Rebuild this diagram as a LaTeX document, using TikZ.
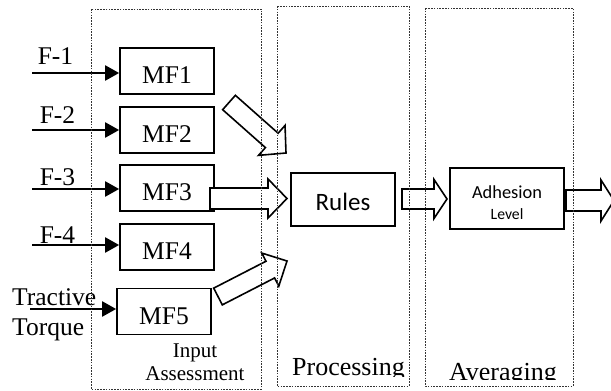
\documentclass[tikz,border=0pt]{standalone}
\usepackage{fontspec}
\setmainfont{Liberation Serif}
\newfontfamily\calib{Carlito}
\usetikzlibrary{arrows.meta,calc}
\newcommand\blockarr[5]{%
  \coordinate (bh) at ($(#2)!#5!(#1)$);
  \draw[blockarrow] ($(#1)!#3!90:(#2)$) -- ($(bh)!#3!90:(#2)$) -- ($(bh)!#4!90:(#2)$) -- (#2)
    -- ($(bh)!#4!-90:(#2)$) -- ($(bh)!#3!-90:(#2)$) -- ($(#1)!#3!-90:(#2)$) -- cycle;}
\tikzset{
  mfbox/.style={draw, line width=1.7pt, minimum width=94pt, minimum height=46pt, inner sep=0pt},
  stage/.style={draw=black!80, line width=0.7pt, dash pattern=on 1.6pt off 1.2pt},
  inarrow/.style={line width=2.2pt, -{Triangle[length=14pt,width=15pt]}},
  blockarrow/.style={draw, fill=white, line width=1.6pt, line join=miter},
  lbl/.style={font=\fontsize{25.5}{25.5}\selectfont, inner sep=0pt, anchor=base},
}
\begin{document}
\begin{tikzpicture}[x=1pt,y=-1pt]
\useasboundingbox (0,0) rectangle (611,391);
\clip (0,0) rectangle (611,391);

% MF boxes
\node[mfbox] (mf1) at (167,71) {};
\node[mfbox] (mf2) at (167,130) {};
\node[mfbox] (mf3) at (167,188) {};
\node[mfbox] (mf4) at (167,247) {};
\node[mfbox] (mf5) at (164,311.5) {};
\foreach \n/\t in {mf1/MF1,mf2/MF2,mf3/MF3,mf4/MF4,mf5/MF5}
  \node[lbl] at ($(\n.center)+(0,12.5)$) {\t};

% Rules and Adhesion
\node[draw, line width=2.6pt, minimum width=104pt, minimum height=53pt, inner sep=0pt] (rules) at (343,199.5) {};
\node[font=\calib\fontsize{25}{25}\selectfont, inner sep=0pt, anchor=base] at (343,210) {Rules};
\node[draw, line width=1.7pt, minimum width=114pt, minimum height=61pt, inner sep=0pt] (adh) at (507,198.5) {};
\node[font=\calib\fontsize{18.4}{18.4}\selectfont, inner sep=0pt, anchor=base] at (507,198) {Adhesion};
\node[font=\calib\fontsize{15.7}{15.7}\selectfont, inner sep=0pt, anchor=base] at (507,219) {Level};

% input labels and arrows
\node[lbl] at (55.5,64) {F-1};
\node[lbl] at (57.5,123.5) {F-2};
\node[lbl] at (57.5,185) {F-3};
\node[lbl] at (57.5,243.5) {F-4};
\node[lbl, anchor=base west] at (12,305) {Tractive};
\node[lbl, anchor=base west] at (12,335) {Torque};
\coordinate (i1) at (32,73);
\coordinate (i2) at (32,130);
\coordinate (i3) at (32,189);
\coordinate (i4) at (32,245);
\coordinate (i5) at (30,309);
\draw[inarrow] (i1) -- (i1 -| mf1.west);
\draw[inarrow] (i2) -- (i2 -| mf2.west);
\draw[inarrow] (i3) -- (i3 -| mf3.west);
\draw[inarrow] (i4) -- (i4 -| mf4.west);
\draw[inarrow] (i5) -- (i5 -| mf5.west);

% block arrows
\coordinate (a1t) at (229,102.5); \coordinate (a1h) at (286,153);
\coordinate (a2t) at (210,198.5); \coordinate (a2h) at (287,198.5);
\coordinate (a3t) at (218,296.5); \coordinate (a3h) at (287,261);
\coordinate (a4t) at (402,199);   \coordinate (a4h) at (447,199);
\coordinate (a5t) at (566,200.5); \coordinate (a5h) at (614,200.5);
\blockarr{a1t}{a1h}{9.6pt}{20pt}{19pt}
\blockarr{a2t}{a2h}{10.5pt}{19.5pt}{19pt}
\blockarr{a3t}{a3h}{9.4pt}{18.6pt}{18.8pt}
\blockarr{a4t}{a4h}{10pt}{19.5pt}{13pt}
\blockarr{a5t}{a5h}{10.5pt}{20.5pt}{13pt}

% stage boxes
\draw[stage] (91,9) rectangle (261,389);
\draw[stage] (277,6) rectangle (409,386);
\draw[stage] (425,8) rectangle (573,386);

\node[font=\fontsize{21}{21}\selectfont, inner sep=0pt, anchor=base] at (195,357) {Input};
\node[font=\fontsize{21}{21}\selectfont, inner sep=0pt, anchor=base] at (195,380) {Assessment};
\begin{scope}
\clip (277,300) rectangle (409,376);
\node[font=\fontsize{26}{26}\selectfont, inner sep=0pt, anchor=base] at (348.5,375) {Processing};
\end{scope}
\begin{scope}
\clip (425,300) rectangle (573,379);
\node[font=\fontsize{26}{26}\selectfont, inner sep=0pt, anchor=base] at (503,380) {Averaging};
\end{scope}
\end{tikzpicture}
\end{document}
